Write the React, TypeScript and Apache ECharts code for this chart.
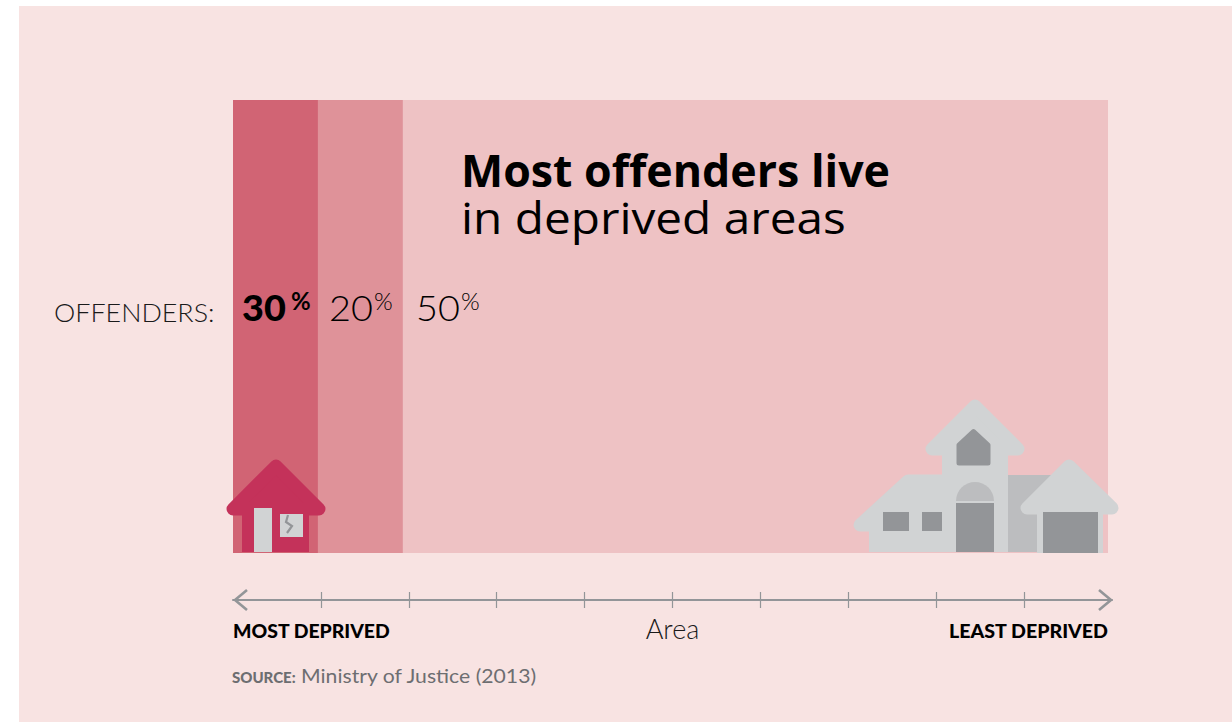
import React, { useEffect, useRef } from "react";
import * as echarts from "echarts";

const bandNames = ["Most deprived tenth", "Second tenth", "Rest of areas"];
const bandWidths = [9.71, 9.71, 80.58];
const bandColors = ["#D16474", "#DF9299", "#EEC2C4"];
const offenderShares = ["30", "20", "50"];
const axisTicks = [10, 20, 30, 40, 50, 60, 70, 80, 90];
const titleLines = ["Most offenders live", "in deprived areas"];
const FONT = "Lato";
const TITLE_FONT = "Open Sans";
const RED = "#C4325A";
const LIGHT = "#D1D3D4";
const MID = "#BCBDBF";
const DARK = "#939598";

const rect = (x: number, y: number, w: number, h: number, fill: string, z = 10) => ({
  type: "rect", z, silent: true, shape: { x, y, width: w, height: h }, style: { fill },
});
const roof = (pts: number[][], color: string, width: number, z = 10) => ({
  type: "polygon", z, silent: true, shape: { points: pts },
  style: { fill: color, stroke: color, lineWidth: width, lineJoin: "round" },
});
const text = (x: number, baseline: number, t: string, size: number, weight: any, fill: string, opts: any = {}) => ({
  type: "text", z: 20, silent: true, x, y: baseline - (opts.k ?? 0.9) * size, scaleX: opts.sx ?? 1,
  style: { text: t, fontFamily: opts.family ?? FONT, fontSize: size, fontWeight: weight, fill, align: opts.align ?? "left", verticalAlign: "top" },
});
const arrow = (pts: number[][]) => ({
  type: "polyline", z: 8, silent: true, shape: { points: pts },
  style: { fill: "none", stroke: DARK, lineWidth: 2.6 },
});

export default function App() {
  const ref = useRef<HTMLDivElement>(null);
  useEffect(() => {
    const chart = echarts.init(ref.current!, undefined, { renderer: "svg" });
    const shareX = [242, 329, 416];
    const pctX = [291, 374, 461];
    const graphic: any[] = [
      rect(19, 6, 1213, 716, "#F8E3E2", 0),
      // small house
      roof([[233, 509], [276, 466], [319, 509]], RED, 13),
      rect(242, 505, 67, 47, RED),
      rect(254, 508, 18, 44, LIGHT, 11),
      rect(280, 514, 23, 23, LIGHT, 11),
      { type: "polyline", z: 12, silent: true, shape: { points: [[288, 515], [286, 522], [292, 526], [287, 533]] },
        style: { fill: "none", stroke: DARK, lineWidth: 2.2 } },
      // large house
      rect(1008, 475, 44, 77, MID, 9),
      roof([[860, 525], [908, 481], [945, 481], [945, 525]], LIGHT, 13),
      rect(869, 510, 73, 42, LIGHT),
      roof([[932, 449], [975, 406], [1018, 449]], LIGHT, 13),
      rect(942, 440, 66, 112, LIGHT),
      roof([[1027, 508], [1069, 466], [1112, 508]], LIGHT, 13, 11),
      rect(1037, 505, 66, 48, LIGHT, 11),
      roof([[959, 445], [973.5, 431.5], [988, 445], [988, 463], [959, 463]], DARK, 5, 12),
      rect(883, 512, 26, 19, DARK, 12),
      rect(922, 512, 20, 19, DARK, 12),
      rect(956, 503, 38, 49, DARK, 12),
      { type: "sector", z: 12, silent: true,
        shape: { cx: 975, cy: 501, r0: 0, r: 19, startAngle: Math.PI, endAngle: 2 * Math.PI },
        style: { fill: MID } },
      rect(1043, 512, 55, 41, DARK, 12),
      // axis arrowheads
      arrow([[247, 590], [235, 600], [247, 610]]),
      arrow([[1099, 590], [1111, 600], [1099, 610]]),
      // texts
      text(461, 188, titleLines[0], 44, 700, "#000000", { family: TITLE_FONT, sx: 1.016 }),
      text(461, 234, titleLines[1], 44, 400, "#000000", { family: TITLE_FONT, sx: 1.085 }),
      text(54, 322, "OFFENDERS:", 25, 300, "#1A1A1A", { sx: 1.074 }),
      ...offenderShares.flatMap((s, i) => [
        text(shareX[i], 322, s, 36, i === 0 ? 900 : 300, "#000000", { sx: 1.05 }),
        text(pctX[i], 310, "%", 24, i === 0 ? 700 : 300, "#000000"),
      ]),
      text(233, 638, "MOST DEPRIVED", 18.5, 900, "#000000", { sx: 1.05 }),
      text(1108, 638, "LEAST DEPRIVED", 18.5, 900, "#000000", { align: "right", sx: 1.06 }),
      text(232, 683, "SOURCE:", 15, 900, "#6D6E71"),
      text(301, 683, "Ministry of Justice (2013)", 20, 400, "#6D6E71", { sx: 1.06 }),
    ];
    chart.setOption({
      animation: false,
      backgroundColor: "#FFFFFF",
      grid: [
        { left: 233, top: 100, width: 875, height: 453 },
        { left: 233, top: 600, width: 879, height: 0 },
      ],
      xAxis: [
        { gridIndex: 0, type: "value", min: 0, max: 100, show: false },
        {
          gridIndex: 1, type: "value", min: 0, max: 100, interval: 10, position: "bottom",
          name: "Area", nameLocation: "middle", nameGap: 15,
          nameTextStyle: { fontFamily: FONT, fontSize: 27, fontWeight: 300, color: "#1A1A1A" },
          axisLine: { show: true, lineStyle: { color: DARK, width: 2 } },
          axisTick: { show: true, inside: false, length: 8, customValues: axisTicks, lineStyle: { color: DARK, width: 1.2 } },
          axisLabel: { show: false }, splitLine: { show: false },
        },
        {
          gridIndex: 1, type: "value", min: 0, max: 100, interval: 10, position: "bottom",
          axisLine: { show: false },
          axisTick: { show: true, inside: true, length: 8, customValues: axisTicks, lineStyle: { color: DARK, width: 1.2 } },
          axisLabel: { show: false }, splitLine: { show: false },
        },
      ],
      yAxis: [
        { gridIndex: 0, type: "category", data: ["Area"], show: false },
        { gridIndex: 1, type: "value", show: false },
      ],
      series: bandNames.map((name, i) => ({
        name, type: "bar", stack: "areas", xAxisIndex: 0, yAxisIndex: 0, barWidth: "100%",
        data: [bandWidths[i]], itemStyle: { color: bandColors[i] }, silent: true,
      })),
      graphic,
    });
    return () => chart.dispose();
  }, []);
  return <div ref={ref} style={{ position: "fixed", left: 0, top: 0, width: 1232, height: 722 }} />;
}
